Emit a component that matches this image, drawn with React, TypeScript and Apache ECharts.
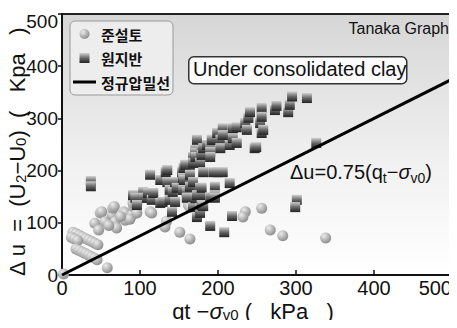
import React, { useEffect, useRef } from "react";
import * as echarts from "echarts";

const circleData: [number, number][] = [
  [2, 2], [58, 14],
  [14, 82], [18, 79], [22, 76], [26, 73], [30, 70], [34, 67], [38, 64], [42, 61], [46, 58],
  [12, 72], [16, 69], [20, 66],
  [18, 50], [22, 47], [26, 44], [30, 41], [34, 38], [38, 35], [42, 32], [45, 29],
  [42, 99], [49, 119], [51, 121], [55, 102], [64, 115], [65, 128], [67, 131], [68, 102], [70, 90], [47, 86],
  [79, 121], [81, 105], [81, 119], [90, 115], [92, 131], [87, 107], [96, 136], [96, 119], [91, 138],
  [60, 95], [75, 112], [113, 121], [115, 119],
  [134, 103], [132, 92], [151, 82], [164, 69], [162, 134], [174, 115], [164, 130],
  [235, 121], [232, 111], [256, 128], [267, 86], [283, 75], [338, 71],
];

const squareData: [number, number][] = [
  [37, 180], [37, 170],
  [91, 153], [96, 144], [94, 148], [104, 159], [104, 148], [109, 148], [110, 157], [115, 144], [117, 157],
  [113, 192], [96, 134], [126, 138], [129, 140], [126, 182], [129, 182], [133, 197], [135, 201], [135, 178],
  [138, 163], [138, 144], [141, 121], [142, 159], [145, 140], [145, 178], [147, 167], [154, 197], [155, 186],
  [155, 163], [156, 205], [156, 182], [158, 211], [160, 159], [160, 148], [164, 211], [164, 192], [164, 169],
  [168, 226], [168, 215], [168, 178], [168, 130], [171, 240], [171, 234], [171, 226], [171, 147], [173, 259],
  [173, 153], [173, 111], [177, 215], [177, 167], [177, 153], [177, 128], [177, 119], [179, 239], [179, 230],
  [179, 167], [179, 134], [181, 243], [181, 197], [181, 132], [186, 249], [190, 245], [190, 236], [190, 226],
  [190, 149], [190, 94], [192, 259], [194, 259], [194, 197], [196, 169], [196, 153], [196, 148], [199, 272],
  [200, 197], [203, 259], [203, 243], [206, 281], [206, 268], [206, 197], [208, 82], [215, 249], [215, 176],
  [218, 268], [219, 281], [219, 262], [224, 283], [224, 253], [235, 291], [237, 278], [239, 301], [241, 312],
  [247, 243], [249, 245], [254, 291], [256, 320], [256, 303], [256, 272], [258, 278], [273, 316], [275, 324],
  [290, 312], [292, 326], [295, 342], [314, 339], [301, 144], [299, 130], [326, 253], [218, 113],
];

const lineData: [number, number][] = [[0, 0], [500, 375]];

const seriesNames = ["준설토", "원지반", "정규압밀선"];
const axisMin = 0;
const axisMax = 500;
const axisInterval = 100;

const NUM_FONT = "'Liberation Sans', Arial, sans-serif";
const TXT_FONT = "'Liberation Sans', Arial, sans-serif";
const KR_FONT = "'Noto Sans CJK KR', sans-serif";

export default function App() {
  const ref = useRef<HTMLDivElement>(null);
  useEffect(() => {
    if (!ref.current) return;
    const chart = echarts.init(ref.current, null, { renderer: "svg" });
    const sphere = new echarts.graphic.RadialGradient(0.35, 0.3, 0.75, [
      { offset: 0, color: "#ececec" },
      { offset: 1, color: "#888888" },
    ]);
    const cube = new echarts.graphic.LinearGradient(0, 0, 0, 1, [
      { offset: 0, color: "#d0d0d0" },
      { offset: 0.5, color: "#686868" },
      { offset: 1, color: "#222222" },
    ]);
    const nameRich = {
      t: { fontFamily: NUM_FONT, fontSize: 22, fill: "#111", lineHeight: 22 },
      i: { fontFamily: NUM_FONT, fontSize: 22, fontStyle: "italic", fill: "#111", lineHeight: 22 },
      s: { fontFamily: NUM_FONT, fontSize: 15, fill: "#111", verticalAlign: "bottom", lineHeight: 12 },
    };
    chart.setOption({
      animation: false,
      grid: {
        left: 62, top: 14, right: 5, bottom: 53,
        outerBoundsMode: "none",
        containLabel: false,
        show: true,
        borderColor: "#222",
        borderWidth: 2,
        backgroundColor: new echarts.graphic.LinearGradient(0, 0, 0, 1, [
          { offset: 0, color: "#d6d6d6" },
          { offset: 0.6, color: "#f2f2f2" },
          { offset: 1, color: "#ffffff" },
        ]),
      },
      legend: {
        orient: "vertical",
        left: 70,
        top: 21,
        padding: [5, 3, 5, 3],
        itemGap: 8,
        itemWidth: 23,
        itemHeight: 10,
        backgroundColor: "#ededed",
        borderColor: "#999",
        borderWidth: 1,
        borderRadius: 5,
        textStyle: { fontFamily: KR_FONT, fontSize: 15, fontWeight: "bold", color: "#111", lineHeight: 16 },
        data: [
          { name: seriesNames[0], icon: "path://M5,0A5,5,0,1,1,5,10A5,5,0,1,1,5,0Z" },
          { name: seriesNames[1], icon: "path://M0,0H9V9H0Z" },
          { name: seriesNames[2], icon: "path://M0,0H23V3H0Z" },
        ],
      },
      xAxis: {
        type: "value",
        min: axisMin, max: axisMax, interval: axisInterval,
        splitLine: { show: false },
        axisLine: { lineStyle: { color: "#111", width: 2 } },
        axisTick: { inside: true, length: 5, lineStyle: { color: "#111", width: 1.5 } },
        axisLabel: { color: "#111", fontFamily: NUM_FONT, fontSize: 20, lineHeight: 20, margin: 3, alignMaxLabel: "right" },
      },
      yAxis: {
        type: "value",
        min: axisMin, max: axisMax, interval: axisInterval,
        splitLine: { show: false },
        axisLine: { lineStyle: { color: "#111", width: 2 } },
        axisTick: { inside: false, length: 4, lineStyle: { color: "#111", width: 1.5 } },
        axisLabel: {
          color: "#111", fontFamily: NUM_FONT, fontSize: 19, margin: 4,
          formatter: (v: number) => (v === axisMax ? "{top|" + v + "}" : String(v)),
          rich: { top: { fontFamily: NUM_FONT, fontSize: 19, color: "#111", padding: [14, 0, 0, 0] } },
        },
      },
      series: [
        {
          name: seriesNames[0],
          type: "scatter",
          symbol: "circle",
          symbolSize: 11,
          itemStyle: { color: sphere, opacity: 1 },
          data: circleData,
          z: 3,
        },
        {
          name: seriesNames[1],
          type: "scatter",
          symbol: "rect",
          symbolSize: 10,
          itemStyle: { color: cube, opacity: 1 },
          data: squareData,
          z: 4,
        },
        {
          name: seriesNames[2],
          type: "line",
          symbol: "none",
          lineStyle: { color: "#000", width: 3 },
          itemStyle: { color: "#000" },
          data: lineData,
          z: 5,
        },
      ],
      graphic: [
        {
          type: "text",
          x: 17,
          y: 152,
          rotation: Math.PI / 2,
          style: {
            text: "{t|Δ u  =  (U}{s|2}{t|−U}{s|0}{t|)  (   Kpa   )}",
            rich: nameRich,
            align: "center",
            verticalAlign: "middle",
          },
        },
        {
          type: "text",
          x: 253,
          y: 311,
          style: {
            text: "{t|qt −}{i|σ}{s|v0}{t| (   kPa   )}",
            rich: nameRich,
            align: "center",
            verticalAlign: "middle",
          },
        },
        {
          type: "text",
          right: 8,
          top: 20,
          style: { text: "Tanaka Graph", font: `16px ${TXT_FONT}`, fill: "#111" },
        },
        {
          type: "rect",
          left: 188,
          top: 56,
          shape: { width: 218, height: 27, r: 5 },
          style: { fill: "#fbfbfb", stroke: "#333", lineWidth: 1.5 },
          z: 10,
        },
        {
          type: "text",
          left: 193,
          top: 59,
          style: { text: "Under consolidated clay", font: `20px ${TXT_FONT}`, fill: "#111" },
          z: 11,
        },
        {
          type: "text",
          left: 290,
          top: 162,
          style: {
            text: "{t|Δu=0.75(q}{s|t}{t|−}{i|σ}{s|v0}{t|)}",
            rich: {
              t: { fontFamily: NUM_FONT, fontSize: 20, fill: "#111", lineHeight: 26 },
              i: { fontFamily: NUM_FONT, fontSize: 20, fontStyle: "italic", fill: "#111", lineHeight: 26 },
              s: { fontFamily: NUM_FONT, fontSize: 14, fill: "#111", verticalAlign: "bottom", lineHeight: 14 },
            },
          },
          z: 11,
        },
      ],
    });
    return () => chart.dispose();
  }, []);
  return <div ref={ref} style={{ width: 457, height: 328, margin: -8 }} />;
}
